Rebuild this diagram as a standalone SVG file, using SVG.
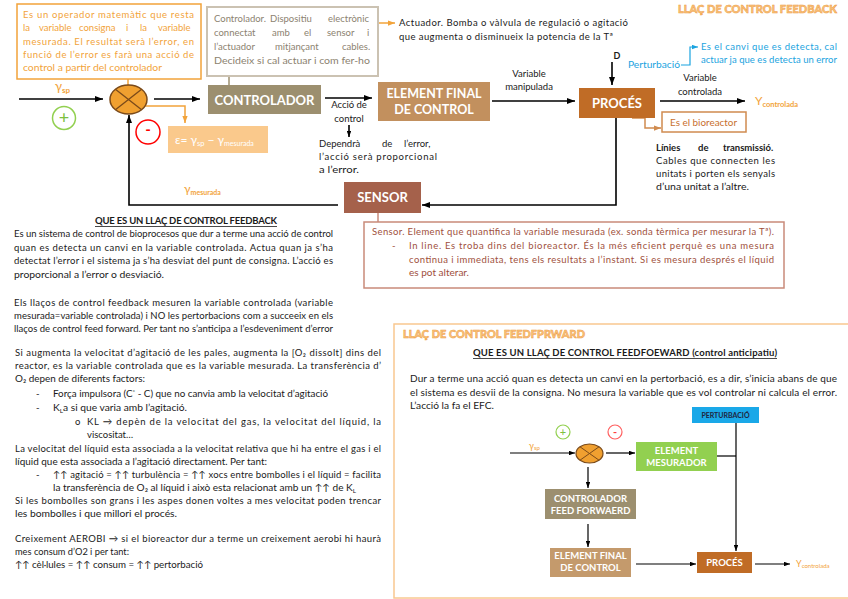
<svg xmlns="http://www.w3.org/2000/svg" width="848" height="599" viewBox="0 0 848 599" font-size="9.5">
<style>
text{font-family:Lato,"DejaVu Sans",sans-serif;fill:#1a1a1a}
.o{fill:#F2A33A}
.g{fill:#8C8270}
.b{font-weight:bold}
.w{fill:#fff;font-weight:bold;text-anchor:middle}
.ln{stroke:#000;stroke-width:1.6;fill:none}
.lf{stroke:#000;stroke-width:1.2;fill:none}
.art{font-weight:900;fill:#F9C27E;stroke:#EE9C3C;stroke-width:0.5}
</style>
<defs>
<marker id="ab" viewBox="0 0 8 6" refX="8" refY="3" markerWidth="8" markerHeight="6" orient="auto" markerUnits="userSpaceOnUse"><path d="M0,0 L8,3 L0,6 z" fill="#000"/></marker>
<marker id="as" viewBox="0 0 8 6" refX="8" refY="3" markerWidth="6" markerHeight="4.5" orient="auto" markerUnits="userSpaceOnUse"><path d="M0,0 L8,3 L0,6 z" fill="#000"/></marker>
<marker id="ao" viewBox="0 0 8 6" refX="8" refY="3" markerWidth="7" markerHeight="5.5" orient="auto" markerUnits="userSpaceOnUse"><path d="M0,0 L8,3 L0,6 z" fill="#F2A33A"/></marker>
<marker id="abl" viewBox="0 0 8 6" refX="8" refY="3" markerWidth="6" markerHeight="5" orient="auto" markerUnits="userSpaceOnUse"><path d="M0,0 L8,3 L0,6 z" fill="#1AA3E0"/></marker>
<marker id="ar" viewBox="0 0 8 6" refX="8" refY="3" markerWidth="7" markerHeight="5.5" orient="auto" markerUnits="userSpaceOnUse"><path d="M0,0 L8,3 L0,6 z" fill="#D08B4F"/></marker>
</defs>
<rect width="848" height="599" fill="#fff"/>

<text class="art" x="678" y="13" font-size="11.5" textLength="159" lengthAdjust="spacingAndGlyphs">LLAÇ DE CONTROL FEEDBACK</text>

<g id="connectors">
<path class="ln" d="M19,99 H103" marker-end="url(#ab)"/>
<path class="ln" d="M154,99 H200" marker-end="url(#ab)"/>
<path class="ln" d="M325,98 H372" marker-end="url(#ab)"/>
<path class="ln" d="M492,101 H575" marker-end="url(#ab)"/>
<path class="ln" d="M612,62 V85" marker-end="url(#ab)"/>
<path class="ln" d="M660,101 H745" marker-end="url(#ab)"/>
<path class="ln" d="M616,118 V205 H422" marker-end="url(#ab)"/>
<path class="ln" d="M338,205 H129 V115" marker-end="url(#ab)"/>
<path class="ln" d="M349,125 V137" stroke-width="1.2" marker-end="url(#as)"/>
<path d="M128,79 V85" stroke="#F2A33A" stroke-width="1.5" fill="none"/>
<path d="M145,106 H185 V123" stroke="#F2A33A" stroke-width="1.5" fill="none" marker-end="url(#ao)"/>
<path d="M229,76 V86" stroke="#9C8F6F" stroke-width="1.5" fill="none"/>
<path d="M378,23 H395" stroke="#F2A33A" stroke-width="1.5" fill="none" marker-end="url(#ao)"/>
<path d="M681,65 H690 V47 H698" stroke="#1AA3E0" stroke-width="1.2" fill="none" marker-end="url(#abl)"/>
<path d="M632,118 H645 V128 H661" stroke="#D08B4F" stroke-width="1.5" fill="none" marker-end="url(#ar)"/>
<path d="M378,213 V222" stroke="#C98A7A" stroke-width="1.5" fill="none"/>
<path class="lf" d="M510,453 H575" marker-end="url(#as)"/>
<path class="lf" d="M606,453 H635" marker-end="url(#as)"/>
<path class="lf" d="M588,467 V488" marker-end="url(#as)"/>
<path class="lf" d="M588,524 V547" marker-end="url(#as)"/>
<path class="lf" d="M636,564 H696" marker-end="url(#as)"/>
<path class="lf" d="M755,564 H790" marker-end="url(#as)"/>
<path class="lf" d="M736,423 V551" marker-end="url(#as)"/>
<path class="lf" d="M717,456 H736"/>
</g>

<g id="note-operador">
<rect x="17" y="4" width="184" height="75" fill="#fff" stroke="#F2A33A" stroke-width="1.5"/>
<text class="o" x="23" y="18" textLength="171" lengthAdjust="spacing">Es un operador matemàtic que resta</text>
<text class="o" y="31"><tspan x="23">la</tspan><tspan x="39">variable</tspan><tspan x="79">consigna</tspan><tspan x="126">i</tspan><tspan x="140">la</tspan><tspan x="158">variable</tspan></text>
<text class="o" x="23" y="45" textLength="171" lengthAdjust="spacing">mesurada. El resultat serà l’error, en</text>
<text class="o" x="23" y="58" textLength="171" lengthAdjust="spacing">funció de l’error es farà una acció de</text>
<text class="o" x="23" y="71" textLength="139" lengthAdjust="spacingAndGlyphs">control a partir del controlador</text>
</g>

<g id="note-controlador">
<rect x="207" y="7" width="171" height="69" fill="#fff" stroke="#CBC2B2" stroke-width="2"/>
<text class="g" y="22"><tspan x="214">Controlador.</tspan><tspan x="270">Dispositiu</tspan><tspan x="328">electrònic</tspan></text>
<text class="g" y="36"><tspan x="214">connectat</tspan><tspan x="272">amb</tspan><tspan x="304">el</tspan><tspan x="327">sensor</tspan><tspan x="367">i</tspan></text>
<text class="g" y="50"><tspan x="214">l’actuador</tspan><tspan x="275">mitjançant</tspan><tspan x="342">cables.</tspan></text>
<text class="g" x="214" y="64" textLength="156" lengthAdjust="spacingAndGlyphs">Decideix si cal actuar i com fer-ho</text>
</g>

<g id="note-actuador">
<text x="399" y="26" textLength="229" lengthAdjust="spacing">Actuador. Bomba o vàlvula de regulació o agitació</text>
<text x="399" y="40" textLength="214" lengthAdjust="spacing">que augmenta o disminueix la potencia de la Tª</text>
</g>

<g id="ysp">
<text class="o" x="55" y="91" font-size="13">γ<tspan font-size="8" font-weight="bold" dy="2">sp</tspan></text>
</g>

<g id="plus">
<circle cx="64" cy="118" r="11.5" fill="none" stroke="#92D050" stroke-width="1.5"/>
<text x="64" y="124" font-size="18" text-anchor="middle" style="fill:#7CC040">+</text>
</g>

<g id="sumador">
<ellipse cx="128.5" cy="99.5" rx="18.5" ry="14.5" fill="#F0A030" stroke="#7A4A1A" stroke-width="1.5"/>
<path d="M115.4,89.25 L141.6,109.75 M115.4,109.75 L141.6,89.25" stroke="#7A4A1A" stroke-width="1.3"/>
</g>

<g id="minus">
<circle cx="148" cy="132" r="12" fill="none" stroke="#FF0000" stroke-width="1.5"/>
<text x="148" y="135" font-size="15" font-weight="bold" text-anchor="middle" style="fill:#FF0000">-</text>
</g>

<g id="error">
<rect x="168" y="126" width="100" height="27" fill="#FAC98C"/>
<text x="175" y="144" font-size="12" style="fill:#fff">ε= γ<tspan font-size="7.5" dy="1.5">sp</tspan><tspan dy="-1.5"> − γ</tspan><tspan font-size="7" dy="1.5">mesurada</tspan></text>
</g>

<g id="controlador">
<rect x="208" y="85" width="113" height="29" fill="#9C8F6F"/>
<text class="w" x="264.5" y="104.5" font-size="13">CONTROLADOR</text>
</g>

<g id="accio">
<text x="349" y="108" text-anchor="middle">Acció de</text>
<text x="349" y="122" text-anchor="middle">control</text>
<text y="147"><tspan x="319">Dependrà</tspan><tspan x="382">de</tspan><tspan x="404">l’error,</tspan></text>
<text x="319" y="160" textLength="118" lengthAdjust="spacing">l’acció serà proporcional</text>
<text x="319" y="173" textLength="40" lengthAdjust="spacingAndGlyphs">a l’error.</text>
</g>

<g id="element-final">
<rect x="378" y="82" width="112" height="39" fill="#C2905E"/>
<text class="w" x="434" y="97.5" font-size="12.5">ELEMENT FINAL</text>
<text class="w" x="434" y="114" font-size="12.5">DE CONTROL</text>
</g>

<g id="variable-manipulada">
<text x="529" y="77" text-anchor="middle">Variable</text>
<text x="529" y="90" text-anchor="middle">manipulada</text>
</g>

<g id="pertorbacio">
<text x="617" y="59" font-size="9" font-weight="bold" text-anchor="middle">D</text>
<text x="628" y="68" textLength="52" lengthAdjust="spacingAndGlyphs" style="fill:#1AA3E0">Perturbació</text>
<text x="701" y="50" textLength="136" lengthAdjust="spacing" style="fill:#1AA3E0">Es el canvi que es detecta, cal</text>
<text x="701" y="63" textLength="136" lengthAdjust="spacing" style="fill:#1AA3E0">actuar ja que es detecta un error</text>
</g>

<g id="proces">
<rect x="579" y="88" width="76" height="30" fill="#C06C26"/>
<text class="w" x="617" y="108" font-size="13">PROCÉS</text>
</g>

<g id="variable-controlada">
<text x="700" y="81" text-anchor="middle">Variable</text>
<text x="700" y="95" text-anchor="middle">controlada</text>
<text class="o" x="755" y="105" font-size="12">Y<tspan font-size="7.5" font-weight="bold" dy="1.5">controlada</tspan></text>
</g>

<g id="bioreactor">
<rect x="662" y="112" width="84" height="20" fill="#fff" stroke="#D08B4F" stroke-width="1.5"/>
<text x="670" y="126" textLength="67" lengthAdjust="spacingAndGlyphs" style="fill:#C8702E">Es el bioreactor</text>
</g>

<g id="linies">
<text class="b" y="151"><tspan x="656">Línies</tspan><tspan x="698">de</tspan><tspan x="723">transmissió.</tspan></text>
<text x="656" y="164" textLength="119" lengthAdjust="spacing">Cables que connecten les</text>
<text x="656" y="177" textLength="119" lengthAdjust="spacing">unitats i porten els senyals</text>
<text x="656" y="190" textLength="93" lengthAdjust="spacingAndGlyphs">d’una unitat a l’altre.</text>
</g>

<g id="ymesurada">
<text class="o" x="184" y="193" font-size="12">γ<tspan font-size="7" font-weight="bold" dy="1.5">mesurada</tspan></text>
</g>

<g id="sensor">
<rect x="344" y="182" width="77" height="31" fill="#A5614B"/>
<text class="w" x="382.5" y="202" font-size="13">SENSOR</text>
</g>

<g id="note-sensor">
<rect x="364" y="222" width="420" height="66" fill="#fff" stroke="#C98A7A" stroke-width="1.5"/>
<text x="372" y="235" style="fill:#A0503C" textLength="402" lengthAdjust="spacing">Sensor. Element que quantifica la variable mesurada (ex. sonda tèrmica per mesurar la Tª).</text>
<text x="392" y="249" style="fill:#A0503C">-</text>
<text x="409" y="249" style="fill:#A0503C" textLength="365" lengthAdjust="spacing">In line. Es troba dins del bioreactor. És la més eficient perquè es una mesura</text>
<text x="409" y="263" style="fill:#A0503C" textLength="365" lengthAdjust="spacing">continua i immediata, tens els resultats a l’instant. Si es mesura després el líquid</text>
<text x="409" y="276" style="fill:#A0503C" textLength="60" lengthAdjust="spacingAndGlyphs">es pot alterar.</text>
</g>

<g id="text-feedback">
<text x="95" y="224" class="b" textLength="182" lengthAdjust="spacing">QUE ES UN LLAÇ DE CONTROL FEEDBACK</text>
<line x1="95" y1="226.5" x2="277" y2="226.5" stroke="#1a1a1a" stroke-width="0.8"/>
<text x="14" y="237" textLength="319" lengthAdjust="spacing">Es un sistema de control de bioprocesos que dur a terme una acció de control</text>
<text x="14" y="251" textLength="319" lengthAdjust="spacing">quan es detecta un canvi en la variable controlada. Actua quan ja s’ha</text>
<text x="14" y="264" textLength="319" lengthAdjust="spacing">detectat l’error i el sistema ja s’ha desviat del punt de consigna. L’acció es</text>
<text x="14" y="278" textLength="150" lengthAdjust="spacingAndGlyphs">proporcional a l’error o desviació.</text>
<text x="14" y="306" textLength="319" lengthAdjust="spacing">Els llaços de control feedback mesuren la variable controlada (variable</text>
<text x="14" y="319" textLength="319" lengthAdjust="spacing">mesurada=variable controlada) i NO les pertorbacions com a succeeix en els</text>
<text x="14" y="332" textLength="319" lengthAdjust="spacing">llaços de control feed forward. Per tant no s’anticipa a l’esdeveniment d’error</text>
</g>

<g id="text-agitacio">
<text x="15" y="356" textLength="366" lengthAdjust="spacing">Si augmenta la velocitat d’agitació de les pales, augmenta la [O₂ dissolt] dins del</text>
<text x="15" y="369" textLength="366" lengthAdjust="spacing">reactor, es la variable controlada que es  la variable mesurada. La transferència d’</text>
<text x="15" y="382" textLength="130" lengthAdjust="spacingAndGlyphs">O₂ depen de diferents factors:</text>
<text x="36" y="397">-</text>
<text x="53" y="397" textLength="275" lengthAdjust="spacingAndGlyphs">Força impulsora (C<tspan font-size="6" dy="-3">*</tspan><tspan dy="3"> - C) que no canvia amb la velocitat d’agitació</tspan></text>
<text x="36" y="411">-</text>
<text x="53" y="411" textLength="134" lengthAdjust="spacingAndGlyphs">K<tspan font-size="6" dy="2">L</tspan><tspan dy="-2">a si que varia amb l’agitació.</tspan></text>
<text x="75" y="425">o</text>
<text x="87" y="425" textLength="294" lengthAdjust="spacing">KL → depèn de la velocitat del gas, la velocitat del líquid, la</text>
<text x="87" y="438">viscositat…</text>
<text x="15" y="452" textLength="366" lengthAdjust="spacing">La velocitat del líquid esta associada a la velocitat relativa que hi ha entre el gas i el</text>
<text x="15" y="465" textLength="252" lengthAdjust="spacingAndGlyphs">líquid que esta associada a l’agitació directament. Per tant:</text>
<text x="36" y="478">-</text>
<text x="53" y="478" textLength="328" lengthAdjust="spacing">↑↑ agitació = ↑↑ turbulència = ↑↑ xocs entre bombolles i el líquid = facilita</text>
<text x="53" y="491" textLength="303" lengthAdjust="spacingAndGlyphs">la transferència de O₂ al líquid i això esta relacionat amb un ↑↑ de K<tspan font-size="6" dy="2">L</tspan></text>
<text x="15" y="504" textLength="366" lengthAdjust="spacing">Si les bombolles son grans i les aspes donen voltes a mes velocitat poden trencar</text>
<text x="15" y="517" textLength="162" lengthAdjust="spacingAndGlyphs">les bombolles i que millori el procés.</text>
<text x="15" y="542" textLength="366" lengthAdjust="spacing">Creixement AEROBI → si el bioreactor dur a terme un creixement aerobi hi haurà</text>
<text x="15" y="555" textLength="114" lengthAdjust="spacingAndGlyphs">mes consum d’O2 i per tant:</text>
<text x="15" y="568" textLength="188" lengthAdjust="spacingAndGlyphs">↑↑ cèl·lules = ↑↑ consum = ↑↑ pertorbació</text>
</g>

<g id="feedforward-frame">
<rect x="394" y="324" width="470" height="274" fill="none" stroke="#F9C890" stroke-width="1.5"/>
<text class="art" x="403" y="338" font-size="11.5" textLength="182" lengthAdjust="spacingAndGlyphs">LLAÇ DE CONTROL FEEDFPRWARD</text>
<text x="473" y="356" class="b" textLength="304" lengthAdjust="spacing">QUE ES UN LLAÇ DE CONTROL FEEDFOEWARD (control anticipatiu)</text>
<line x1="473" y1="358.5" x2="777" y2="358.5" stroke="#1a1a1a" stroke-width="0.8"/>
<text x="410" y="382" font-size="10" textLength="427" lengthAdjust="spacing">Dur a terme una acció quan es detecta un canvi en la pertorbació, es a dir, s’inicia abans de que</text>
<text x="410" y="396" font-size="10" textLength="427" lengthAdjust="spacing">el sistema es desvii de la consigna. No mesura la variable que es vol controlar ni calcula el error.</text>
<text x="410" y="409" font-size="10" textLength="84" lengthAdjust="spacingAndGlyphs">L’acció la fa el EFC.</text>
</g>

<g id="ff-perturbacio">
<rect x="692" y="407" width="67" height="16" fill="#1AA8E8"/>
<text x="725.5" y="418" font-size="7" font-weight="bold" text-anchor="middle" style="fill:#1F2540">PERTURBACIÓ</text>
</g>

<g id="ff-plus">
<circle cx="563" cy="432" r="7" fill="none" stroke="#92D050" stroke-width="1.2"/>
<text x="563" y="436" font-size="11" text-anchor="middle" style="fill:#7CC040">+</text>
</g>
<g id="ff-minus">
<circle cx="615" cy="432" r="7" fill="none" stroke="#FF6060" stroke-width="1.2"/>
<text x="615" y="435.5" font-size="11" font-weight="bold" text-anchor="middle" style="fill:#FF4040">-</text>
</g>

<g id="ff-ysp">
<text class="o" x="529" y="449" font-size="9">γ<tspan font-size="6" dy="1">sp</tspan></text>
</g>

<g id="ff-sumador">
<ellipse cx="589.5" cy="453.5" rx="13.5" ry="9.5" fill="#F0A030" stroke="#7A4A1A" stroke-width="1.2"/>
<path d="M580,446.8 L599,460.2 M580,460.2 L599,446.8" stroke="#7A4A1A" stroke-width="1"/>
</g>

<g id="ff-mesurador">
<rect x="636" y="442" width="81" height="29" fill="#92D050"/>
<text class="w" x="676.5" y="454" font-size="9.5">ELEMENT</text>
<text class="w" x="676.5" y="466" font-size="9.5">MESURADOR</text>
</g>

<g id="ff-controlador">
<rect x="545" y="489" width="91" height="30" fill="#9C8F6F"/>
<text class="w" x="590.5" y="502" font-size="9.5">CONTROLADOR</text>
<text class="w" x="590.5" y="514" font-size="9.5">FEED FORWAERD</text>
</g>

<g id="ff-element-final">
<rect x="550" y="548" width="81" height="29" fill="#C49A6C"/>
<text class="w" x="590.5" y="559" font-size="9.5">ELEMENT FINAL</text>
<text class="w" x="590.5" y="571" font-size="9.5">DE CONTROL</text>
</g>

<g id="ff-proces">
<rect x="697" y="552" width="55" height="21" fill="#C06C26"/>
<text class="w" x="724.5" y="566" font-size="9.5">PROCÉS</text>
</g>

<g id="ff-ycontrolada">
<text class="o" x="796" y="567" font-size="9">Y<tspan font-size="6" dy="1">controlada</tspan></text>
</g>
</svg>
